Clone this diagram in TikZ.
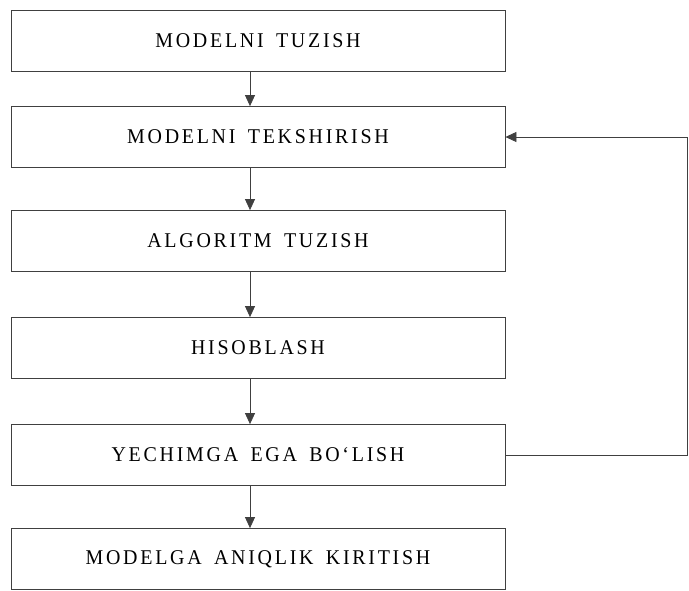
\documentclass[tikz,border=0pt]{standalone}
\usepackage{fontspec}
\setmainfont{Liberation Serif}
\newfontfamily\stagefont[LetterSpace=13, WordSpace=1.6, FakeStretch=0.95]{Liberation Serif}
\usetikzlibrary{arrows.meta}

\begin{document}
\begin{tikzpicture}[x = 1pt, y = -1pt,
    stage/.style = {draw = black!75, line width = .8pt, minimum width = 494pt,
      minimum height = 61pt, inner sep = 0pt,
      font = \stagefont\fontsize{21}{24}\selectfont},
    flow/.style = {draw = black!75, line width = .8pt, -{Triangle[length = 11pt, width = 10pt]}}]
 \useasboundingbox (0,0) rectangle (689,590);
 \path node[stage] (build) at (258,41) {MODELNI TUZISH}

 node[stage] (check) at (258,137) {MODELNI TEKSHIRISH}

 node[stage] (algo) at (258,241) {ALGORITM TUZISH}

 node[stage] (calc) at (258,348) {HISOBLASH}

 node[stage] (solve) at (258,455) {YECHIMGA EGA BO‘LISH}

 node[stage] (refine) at (258,559) {MODELGA ANIQLIK KIRITISH};

 \coordinate (col) at (250,0);
 \coordinate (back) at (687,0);

 \draw[flow] (build.south -| col) -- (check.north -| col);
 \draw[flow] (check.south -| col) -- (algo.north -| col);
 \draw[flow] (algo.south -| col) -- (calc.north -| col);
 \draw[flow] (calc.south -| col) -- (solve.north -| col);
 \draw[flow] (solve.south -| col) -- (refine.north -| col);
 \draw[flow] (solve.east) -- (solve.east -| back) |- (check.east);
\end{tikzpicture}
\end{document}
